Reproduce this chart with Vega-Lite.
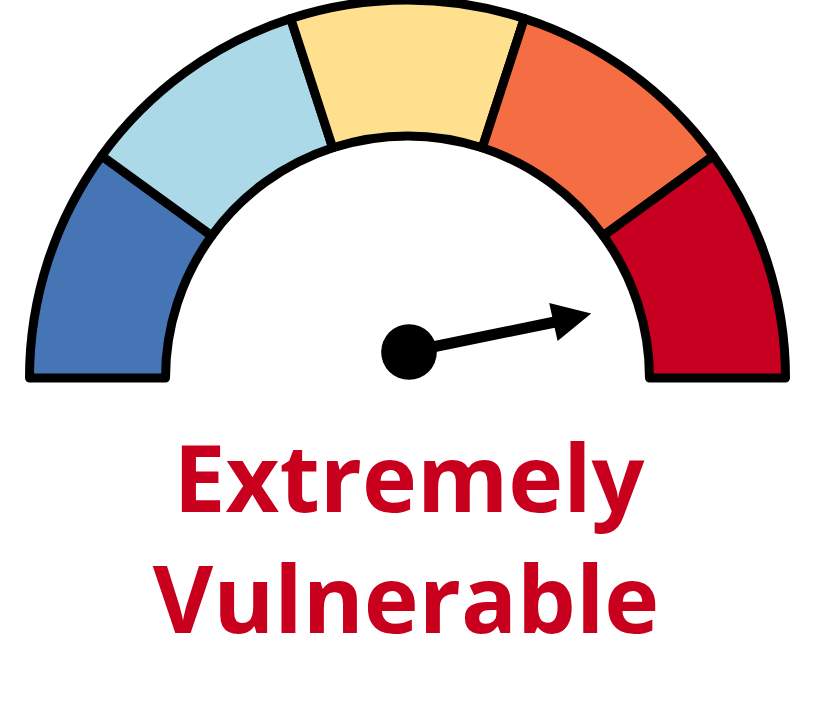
{
  "$schema": "https://vega.github.io/schema/vega-lite/v6.json",
  "width": 815,
  "height": 756,
  "padding": 0,
  "autosize": {"type": "none"},
  "background": "white",
  "config": {"view": {"stroke": null}},
  "datasets": {
    "segments": [
      {"band": "1", "share": 1},
      {"band": "2", "share": 1},
      {"band": "3", "share": 1},
      {"band": "4", "share": 1},
      {"band": "5", "share": 1}
    ],
    "needle": [{"x": 0.5, "y": 26, "x2": 147.5, "y2": 56}],
    "hub": [{"x": 1.5, "y": 26}],
    "head": [{"x": 164.8, "y": 60.2}],
    "labels": [
      {"text": "Extremely", "x": 1.5, "y": -134},
      {"text": "Vulnerable", "x": -1.5, "y": -255}
    ]
  },
  "layer": [
    {
      "data": {"name": "segments"},
      "mark": {"type": "arc", "radius": 378, "radius2": 242, "stroke": "black", "strokeWidth": 9, "strokeJoin": "round"},
      "encoding": {
        "theta": {"field": "share", "type": "quantitative", "stack": true, "scale": {"range": [-1.5708, 1.5708]}},
        "order": {"field": "band", "type": "ordinal"},
        "color": {"field": "band", "type": "nominal", "legend": null,
          "scale": {"domain": ["1", "2", "3", "4", "5"], "range": ["#4575B4", "#ABD9E8", "#FEE08F", "#F46D43", "#C70022"]}}
      }
    },
    {
      "data": {"name": "needle"},
      "mark": {"type": "rule", "color": "black", "strokeWidth": 11},
      "encoding": {
        "x": {"field": "x", "type": "quantitative", "axis": null, "scale": {"domain": [-407.5, 407.5], "nice": false, "zero": false}},
        "y": {"field": "y", "type": "quantitative", "axis": null, "scale": {"domain": [-378, 378], "nice": false, "zero": false}},
        "x2": {"field": "x2"},
        "y2": {"field": "y2"}
      }
    },
    {
      "data": {"name": "head"},
      "mark": {"type": "point", "shape": "M-1,-1L1,0L-1,1Z", "filled": true, "color": "black", "opacity": 1, "size": 1500, "angle": 347.5},
      "encoding": {
        "x": {"field": "x", "type": "quantitative"},
        "y": {"field": "y", "type": "quantitative"}
      }
    },
    {
      "data": {"name": "hub"},
      "mark": {"type": "point", "shape": "circle", "filled": true, "color": "black", "opacity": 1, "size": 3100},
      "encoding": {
        "x": {"field": "x", "type": "quantitative"},
        "y": {"field": "y", "type": "quantitative"}
      }
    },
    {
      "data": {"name": "labels"},
      "mark": {"type": "text", "font": "Open Sans", "fontWeight": "bold", "fontSize": 93, "color": "#C8001E", "align": "center", "baseline": "alphabetic"},
      "encoding": {
        "x": {"field": "x", "type": "quantitative"},
        "y": {"field": "y", "type": "quantitative"},
        "text": {"field": "text"}
      }
    }
  ]
}
